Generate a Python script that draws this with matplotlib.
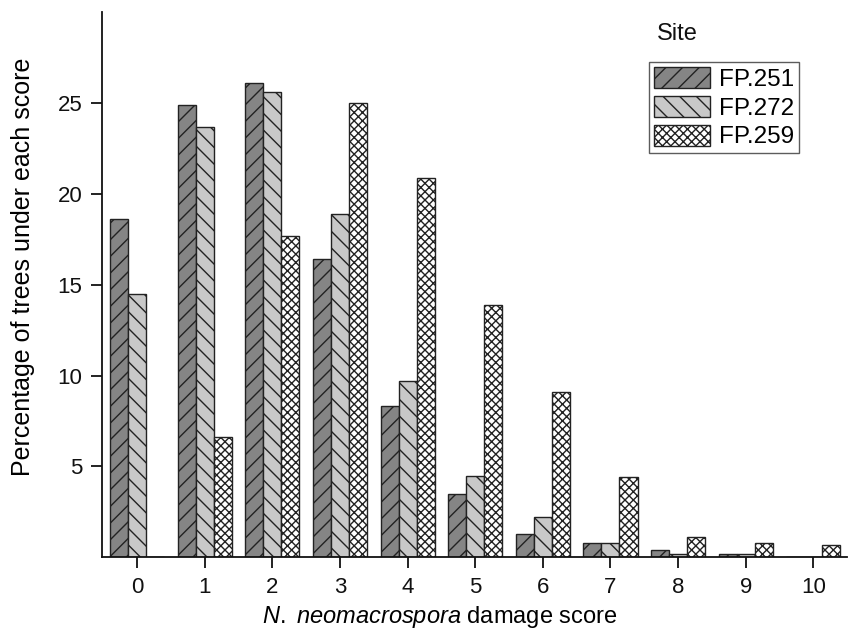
import matplotlib
matplotlib.use("Agg")
import matplotlib.pyplot as plt
import numpy as np

plt.rcParams['font.family'] = ['Liberation Sans', 'DejaVu Sans']
plt.rcParams['mathtext.fontset'] = 'custom'
plt.rcParams['mathtext.it'] = 'Liberation Sans:italic'
plt.rcParams['mathtext.rm'] = 'Liberation Sans'
plt.rcParams['hatch.linewidth'] = 1.0

scores = [0, 1, 2, 3, 4, 5, 6, 7, 8, 9, 10]
sites = ["FP.251", "FP.272", "FP.259"]
fp251 = [18.6, 24.9, 26.1, 16.4, 8.3, 3.5, 1.3, 0.8, 0.4, 0.2, 0.0]
fp272 = [14.5, 23.7, 25.6, 18.9, 9.7, 4.5, 2.2, 0.8, 0.2, 0.2, 0.0]
fp259 = [0.0, 6.6, 17.7, 25.0, 20.9, 13.9, 9.1, 4.4, 1.1, 0.8, 0.7]
yticks = [5, 10, 15, 20, 25]

series = [fp251, fp272, fp259]
colors = ["#858585", "#c8c8c8", "#ffffff"]
hatches = ["//", "\\\\", "xxxx"]

fig = plt.figure(figsize=(8.5, 6.28), dpi=100)
ax = fig.add_axes([0.1196, 0.1126, 0.877, 0.868])

x = np.arange(len(scores))
w = 0.267
for i, (vals, c, h, lab) in enumerate(zip(series, colors, hatches, sites)):
    ax.bar(x + (i - 1) * w, vals, width=w, color=c, edgecolor="#222222",
           hatch=h, linewidth=1.0, label=lab)

ax.set_xlim(-0.525, 10.5)
ax.set_ylim(0, 30)
ax.set_xticks(x)
ax.set_xticklabels([str(s) for s in scores])
ax.set_yticks(yticks)
ax.set_yticklabels([str(t) for t in yticks])
ax.tick_params(axis='both', direction='out', length=8, width=1.3, labelsize=16,
               color="#111111", labelcolor="#111111", pad=6)
for s in ["top", "right"]:
    ax.spines[s].set_visible(False)
for s in ["left", "bottom"]:
    ax.spines[s].set_linewidth(1.3)
    ax.spines[s].set_color("#111111")

ax.set_ylabel("Percentage of trees under each score", fontsize=18)
ax.yaxis.set_label_coords(-0.09, 0.532)
ax.set_xlabel(r"$\it{N.}$ $\it{neomacrospora}$ damage score", fontsize=17)
ax.xaxis.set_label_coords(0.454, -0.085)

leg = ax.legend(loc="upper left", bbox_to_anchor=(0.734, 0.908), borderaxespad=0,
                fontsize=17.5, handlelength=2.3, handleheight=0.95, labelspacing=0.2,
                handletextpad=0.4, borderpad=0.2, frameon=True, fancybox=False)
leg.get_frame().set_edgecolor("#333333")
leg.get_frame().set_linewidth(1.0)
ax.text(0.745, 0.96, "Site", transform=ax.transAxes, fontsize=17,
        ha="left", va="center", color="#111111")

fig.savefig("out.png", dpi=100)
